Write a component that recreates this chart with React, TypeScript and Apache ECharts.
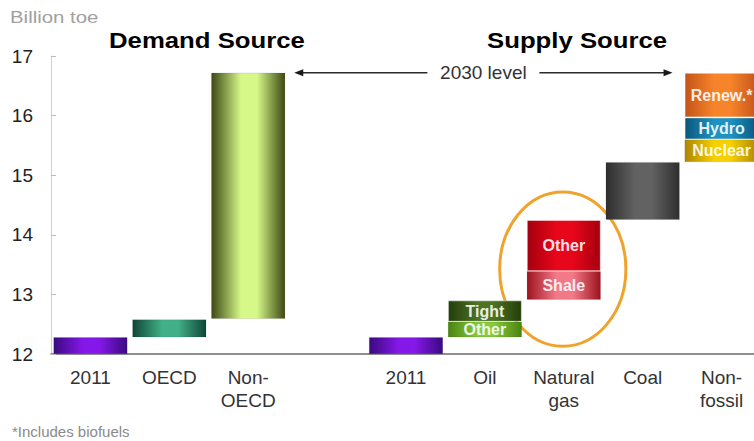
import React, { useEffect, useRef } from "react";
import * as echarts from "echarts";

// ---- data ----
const categories = ["2011", "OECD", "Non-\nOECD", "", "2011", "Oil", "Natural\ngas", "Coal", "Non-\nfossil"];
// invisible starting level of each floating bar (Billion toe)
const startLevel = [12, 12.28, 12.59, null, 12, 12.28, 12.91, 14.25, 15.22];
// first visible segment
const layer1 = [0.28, 0.30, 4.13, null, 0.28, 0.26, 0.48, 0.97, 0.38];
const layer1Labels = ["", "", "", "", "", "Other", "Shale", "", "Nuclear"];
// second segment
const layer2 = [null, null, null, null, null, 0.36, 0.86, null, 0.37];
const layer2Labels = ["", "", "", "", "", "Tight", "Other", "", "Hydro"];
// third segment
const layer3 = [null, null, null, null, null, null, null, null, 0.75];
const layer3Labels = ["", "", "", "", "", "", "", "", "Renew.*"];
const yTicks = { min: 12, max: 17, interval: 1 };
const level2030 = 16.72;
const highlightCategory = 6;
const highlightRange = [12.13, 14.72];

// ---- styles ----
const layer1Colors = [
  ["#3a0a80", "#8418e8"],
  ["#0f4636", "#41b088"],
  ["#3c4812", "#d6f888"],
  null,
  ["#3a0a80", "#8418e8"],
  ["#4a8410", "#88ca3c"],
  ["#9e121e", "#f27a88"],
  ["#2e2e2e", "#626262"],
  ["#ad8600", "#f7d000"],
];
const layer2Colors = [null, null, null, null, null, ["#243f0b", "#4c7222"], ["#a4000e", "#e8061a"], null, ["#0a567c", "#1f92c2"]];
const layer3Colors = [null, null, null, null, null, null, null, null, ["#c2541a", "#f7842a"]];

const FONT = "'Liberation Sans', Arial, Helvetica, sans-serif";

function grad(pair: string[] | null) {
  if (!pair) return "transparent";
  return {
    type: "linear",
    x: 0,
    y: 0,
    x2: 1,
    y2: 0,
    colorStops: [
      { offset: 0, color: pair[0] },
      { offset: 0.4, color: pair[1] },
      { offset: 0.62, color: pair[1] },
      { offset: 1, color: pair[0] },
    ],
  };
}

function buildData(values: (number | null)[], colors: (string[] | null)[], labels: string[], bordered: boolean) {
  return values.map((v, i) => ({
    value: v,
    itemStyle: {
      color: grad(colors[i]),
      borderColor: bordered ? "rgba(255,255,255,0.45)" : "rgba(0,0,0,0.15)",
      borderWidth: bordered ? 1 : 0.6,
    },
    label: {
      show: !!labels[i],
      formatter: labels[i] || "",
    },
  }));
}

export default function App() {
  const ref = useRef<HTMLDivElement>(null);

  useEffect(() => {
    if (!ref.current) return;
    const chart = echarts.init(ref.current, null, { renderer: "svg" });
    const barLabel = {
      position: "inside",
      color: "rgba(255,255,255,0.9)",
      fontFamily: FONT,
      fontWeight: "bold",
      fontSize: 16,
    };
    const option: any = {
      animation: false,
      backgroundColor: "#ffffff",
      grid: { left: 51, right: 1, top: 56, bottom: 87 },
      xAxis: {
        type: "category",
        data: categories,
        axisLine: { lineStyle: { color: "#6a6a6a", width: 1.5 } },
        axisTick: { show: false },
        axisLabel: {
          interval: 0,
          fontSize: 19,
          lineHeight: 23,
          color: "#333",
          fontFamily: FONT,
          margin: 12,
        },
      },
      yAxis: {
        type: "value",
        min: yTicks.min,
        max: yTicks.max,
        interval: yTicks.interval,
        axisLine: { show: true, lineStyle: { color: "#cfcfcf", width: 1 } },
        axisTick: { show: true, inside: true, length: 5, lineStyle: { color: "#bbbbbb" } },
        splitLine: { show: false },
        axisLabel: { fontSize: 19, color: "#222", fontFamily: FONT, margin: 18 },
      },
      series: [
        {
          type: "bar",
          stack: "w",
          barWidth: 74,
          silent: true,
          itemStyle: { color: "transparent" },
          data: startLevel,
        },
        {
          type: "bar",
          stack: "w",
          barWidth: 74,
          label: barLabel,
          data: buildData(layer1, layer1Colors, layer1Labels, false),
        },
        {
          type: "bar",
          stack: "w",
          barWidth: 74,
          label: barLabel,
          data: buildData(layer2, layer2Colors, layer2Labels, true),
        },
        {
          type: "bar",
          stack: "w",
          barWidth: 74,
          label: barLabel,
          data: buildData(layer3, layer3Colors, layer3Labels, true),
        },
      ],
    };
    chart.setOption(option);

    const xAt = (i: number) => chart.convertToPixel({ xAxisIndex: 0 }, i) as number;
    const yAt = (v: number) => chart.convertToPixel({ yAxisIndex: 0 }, v) as number;
    const half = 37;
    const ly = yAt(level2030);
    const leftTip = xAt(2) + half + 9;
    const rightTip = xAt(8) - half - 12;
    const mid = (leftTip + rightTip) / 2;
    const lineStyle = { stroke: "#2a2a2a", lineWidth: 1.5 };

    const cx = xAt(highlightCategory) - 1;
    const yTop = yAt(highlightRange[1]);
    const yBot = yAt(highlightRange[0]);
    const catW = xAt(1) - xAt(0);

    chart.setOption({
      graphic: [
        {
          type: "text",
          x: 10,
          y: 17,
          scaleX: 1.2,
          style: { text: "Billion toe", fontSize: 17, fill: "#a0a0a0", fontFamily: FONT, textAlign: "left", textVerticalAlign: "middle" },
        },
        {
          type: "text",
          x: 109,
          y: 40,
          scaleX: 1.17,
          style: { text: "Demand Source", fontSize: 22, fontWeight: "bold", fill: "#000", fontFamily: FONT, textAlign: "left", textVerticalAlign: "middle" },
        },
        {
          type: "text",
          x: 487,
          y: 40,
          scaleX: 1.17,
          style: { text: "Supply Source", fontSize: 22, fontWeight: "bold", fill: "#000", fontFamily: FONT, textAlign: "left", textVerticalAlign: "middle" },
        },
        {
          type: "text",
          x: 12,
          y: 431,
          style: { text: "*Includes biofuels", fontSize: 15, fill: "#8a8a8a", fontFamily: FONT, textAlign: "left", textVerticalAlign: "middle" },
        },
        // 2030 level arrows
        { type: "line", shape: { x1: leftTip + 6, y1: ly, x2: mid - 56, y2: ly }, style: lineStyle },
        { type: "line", shape: { x1: mid + 56, y1: ly, x2: rightTip - 6, y2: ly }, style: lineStyle },
        {
          type: "polygon",
          shape: { points: [[leftTip, ly], [leftTip + 9, ly - 3.5], [leftTip + 9, ly + 3.5]] },
          style: { fill: "#1a1a1a" },
        },
        {
          type: "polygon",
          shape: { points: [[rightTip, ly], [rightTip - 9, ly - 3.5], [rightTip - 9, ly + 3.5]] },
          style: { fill: "#1a1a1a" },
        },
        {
          type: "text",
          x: mid,
          y: ly,
          style: { text: "2030 level", fontSize: 19, fill: "#333", fontFamily: FONT, textAlign: "center", textVerticalAlign: "middle" },
        },
        // highlight ellipse around natural gas
        {
          type: "ellipse",
          shape: { cx, cy: (yTop + yBot) / 2, rx: catW * 0.8, ry: (yBot - yTop) / 2 },
          style: { fill: "none", stroke: "#f0a32c", lineWidth: 3 },
        },
      ],
    });

    return () => chart.dispose();
  }, []);

  return (
    <div style={{ position: "fixed", left: 0, top: 0, width: 754, height: 441, overflow: "hidden", background: "#fff" }}>
      <div ref={ref} style={{ width: 762, height: 441 }} />
    </div>
  );
}
